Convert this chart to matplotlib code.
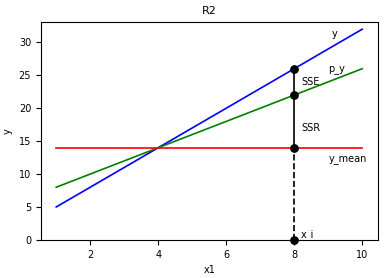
import numpy as np
import matplotlib.pyplot as plt

# data
x1 = np.array([1, 10])
y = np.array([5, 32])
p_y = np.array([8, 26])
y_mean = 14
x_i = 8
y_i = 26
p_y_i = 22

plt.figure(figsize=(3.86, 2.78), dpi=100)
plt.subplots_adjust(left=0.106, right=0.978, top=0.921, bottom=0.137)

plt.plot(x1, y, color="b", linewidth=1.2)
plt.plot(x1, p_y, color="g", linewidth=1.2)
plt.plot(x1, [y_mean, y_mean], color="r", linewidth=1.2)

# SSE / SSR segments
plt.plot([x_i, x_i], [y_mean, y_i], color="k", linewidth=1.2)
plt.plot([x_i, x_i], [0, y_mean], "k--", linewidth=1.2)
plt.scatter([x_i, x_i, x_i, x_i], [y_i, p_y_i, y_mean, 0], color="k", s=28, zorder=3, clip_on=False)

plt.text(9.1, 30.8, "y", fontsize=7)
plt.text(9.0, 25.6, "p_y", fontsize=7)
plt.text(9.0, 11.9, "y_mean", fontsize=7)
plt.text(8.2, 23.5, "SSE", fontsize=7)
plt.text(8.2, 16.6, "SSR", fontsize=7)
plt.text(8.2, 0.5, "x_i", fontsize=7)

plt.ylim(0, 33.1)
plt.title("R2", fontsize=8)
plt.xlabel("x1", fontsize=7)
plt.ylabel("y", fontsize=7)
plt.xticks(fontsize=7)
plt.yticks(fontsize=7)

plt.savefig("out.png")
